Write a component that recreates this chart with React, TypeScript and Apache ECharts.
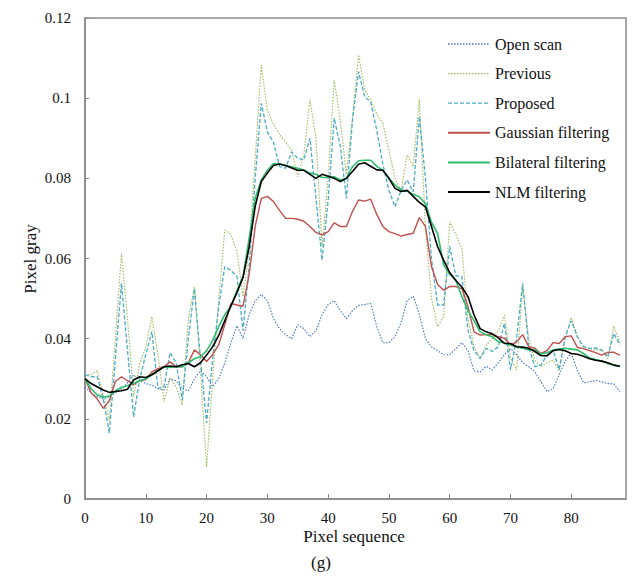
import React, { useEffect, useRef } from "react";
import * as echarts from "echarts";

const seriesNames = ["Open scan", "Previous", "Proposed", "Gaussian filtering", "Bilateral filtering", "NLM filtering"];
const xTicks = [0, 10, 20, 30, 40, 50, 60, 70, 80];

const openScan = [
  0.028, 0.0265, 0.0255, 0.025, 0.0255, 0.0265, 0.0275, 0.029, 0.031, 0.0295,
  0.0288, 0.0284, 0.0275, 0.0272, 0.03, 0.0295, 0.0275, 0.027, 0.03, 0.032,
  0.0305, 0.028, 0.03, 0.034, 0.039, 0.0432, 0.04, 0.046, 0.0495, 0.051,
  0.0495, 0.045, 0.0425, 0.041, 0.04, 0.0435, 0.0425, 0.0405, 0.042, 0.046,
  0.0485, 0.0495, 0.047, 0.045, 0.047, 0.0483, 0.0485, 0.0488, 0.043, 0.039,
  0.039, 0.0405, 0.044, 0.0495, 0.0506, 0.046, 0.04, 0.038, 0.037, 0.036,
  0.036, 0.0375, 0.039, 0.037, 0.032, 0.0317, 0.0331, 0.0322, 0.034, 0.036,
  0.0375, 0.036, 0.034, 0.033, 0.0318, 0.0293, 0.0268, 0.0275, 0.031, 0.0345,
  0.0363, 0.0321, 0.029, 0.0292, 0.0296, 0.0292, 0.0288, 0.0287, 0.0268,
];
const previous = [
  0.031, 0.031, 0.032, 0.026, 0.0197, 0.04, 0.0613, 0.045, 0.0255, 0.0337,
  0.038, 0.0455, 0.036, 0.0243, 0.0301, 0.028, 0.0235, 0.045, 0.053, 0.032,
  0.008, 0.03, 0.05, 0.0671, 0.066, 0.0617, 0.0505, 0.062, 0.085, 0.1083,
  0.097, 0.0935, 0.091, 0.089, 0.087, 0.0804, 0.086, 0.0996, 0.09, 0.063,
  0.08, 0.1045, 0.0945, 0.081, 0.095, 0.1108, 0.1021, 0.0996, 0.096, 0.0937,
  0.087, 0.08, 0.077, 0.0858, 0.0829, 0.0997, 0.068, 0.05, 0.043, 0.0455,
  0.0692, 0.066, 0.0625, 0.045, 0.038, 0.0351, 0.0384, 0.04, 0.042, 0.0459,
  0.035, 0.0322, 0.053, 0.04, 0.0346, 0.033, 0.034, 0.0346, 0.032, 0.04,
  0.0453, 0.0405, 0.038, 0.0372, 0.0372, 0.0372, 0.035, 0.0432, 0.039,
];
const proposed = [
  0.031, 0.0305, 0.0305, 0.025, 0.0165, 0.035, 0.0538, 0.037, 0.0205, 0.03,
  0.036, 0.0418, 0.0276, 0.028, 0.0365, 0.034, 0.0247, 0.04, 0.0525, 0.035,
  0.019, 0.035, 0.048, 0.058, 0.057, 0.0555, 0.042, 0.058, 0.08, 0.0987,
  0.0916, 0.089, 0.083, 0.0825, 0.0866, 0.085, 0.0846, 0.09, 0.075, 0.0596,
  0.0746, 0.095, 0.088, 0.075, 0.0945, 0.1066, 0.1004, 0.099, 0.092, 0.0835,
  0.077, 0.0729, 0.077, 0.0796, 0.0766, 0.0954, 0.08, 0.06, 0.0484, 0.0484,
  0.063, 0.0557, 0.0555, 0.0422, 0.037, 0.0351, 0.0376, 0.0368, 0.038, 0.0438,
  0.0322, 0.04, 0.0538, 0.038, 0.033, 0.0334, 0.0359, 0.0372, 0.0323, 0.0405,
  0.0445, 0.0405, 0.038, 0.0376, 0.0377, 0.0372, 0.0355, 0.0413, 0.0384,
];
const gaussian = [
  0.03, 0.0265, 0.025, 0.0226, 0.0245, 0.0293, 0.0305, 0.0295, 0.0285, 0.0295,
  0.0298, 0.0317, 0.0325, 0.033, 0.0342, 0.033, 0.033, 0.034, 0.0372, 0.036,
  0.0343, 0.036, 0.0385, 0.0435, 0.0488, 0.0484, 0.0481, 0.056, 0.068, 0.075,
  0.0755, 0.0742, 0.072, 0.07, 0.07, 0.0698, 0.0693, 0.068, 0.0665, 0.0659,
  0.0667, 0.0689, 0.068, 0.068, 0.0717, 0.0746, 0.0743, 0.0748, 0.071, 0.068,
  0.0667, 0.0662, 0.0656, 0.066, 0.0663, 0.0702, 0.068, 0.058, 0.0535, 0.0521,
  0.053, 0.053, 0.0525, 0.048, 0.0417, 0.0409, 0.041, 0.041, 0.0405, 0.0401,
  0.0384, 0.0392, 0.041, 0.038, 0.0376, 0.0363, 0.037, 0.039, 0.0388, 0.0405,
  0.0407, 0.0378, 0.0375, 0.037, 0.0365, 0.0359, 0.0366, 0.0366, 0.0359,
];
const bilateral = [
  0.03, 0.0275, 0.026, 0.0254, 0.0257, 0.027, 0.0278, 0.0283, 0.0289, 0.0295,
  0.03, 0.031, 0.032, 0.033, 0.0328, 0.033, 0.033, 0.034, 0.035, 0.0355,
  0.037, 0.0395, 0.043, 0.046, 0.048, 0.052, 0.0555, 0.065, 0.075, 0.0796,
  0.082, 0.0837, 0.0836, 0.0832, 0.0829, 0.0825, 0.0821, 0.0813, 0.081, 0.0802,
  0.0802, 0.0804, 0.0796, 0.08, 0.0829, 0.0844, 0.0845, 0.0845, 0.083, 0.082,
  0.08, 0.0783, 0.0771, 0.0768, 0.076, 0.0754, 0.0737, 0.069, 0.0663, 0.0584,
  0.056, 0.0546, 0.0505, 0.047, 0.0445, 0.0417, 0.041, 0.0405, 0.0392, 0.039,
  0.0384, 0.038, 0.0376, 0.0372, 0.0372, 0.0362, 0.0365, 0.0372, 0.0374, 0.0376,
  0.0374, 0.0372, 0.0363, 0.0352, 0.0348, 0.0344, 0.0338, 0.0334, 0.0331,
];
const nlm = [
  0.03, 0.0288, 0.028, 0.0272, 0.0266, 0.0268, 0.027, 0.0274, 0.0297, 0.0305,
  0.0303, 0.031, 0.032, 0.033, 0.0332, 0.033, 0.0335, 0.0338, 0.033, 0.034,
  0.0359, 0.038, 0.0408, 0.0445, 0.0482, 0.0515, 0.0553, 0.0629, 0.073, 0.0792,
  0.0813, 0.0832, 0.0836, 0.0832, 0.0826, 0.082, 0.082, 0.081, 0.08, 0.081,
  0.0805, 0.08, 0.0792, 0.08, 0.0817, 0.0835, 0.0839, 0.083, 0.0821, 0.082,
  0.08, 0.0775, 0.0767, 0.077, 0.0755, 0.074, 0.0729, 0.068, 0.063, 0.0596,
  0.0565, 0.0545, 0.0529, 0.0505, 0.0459, 0.0425, 0.0417, 0.0412, 0.0402, 0.0388,
  0.0388, 0.038, 0.0379, 0.0376, 0.0368, 0.0358, 0.0357, 0.037, 0.0373, 0.037,
  0.0363, 0.0361, 0.0356, 0.035, 0.0346, 0.0344, 0.034, 0.0334, 0.0331,
];

const seriesData = [openScan, previous, proposed, gaussian, bilateral, nlm];
const colors = ["#4472C4", "#9BBB59", "#4BACC6", "#C0504D", "#2DBE6C", "#000000"];
const lineTypes: any[] = [[1.5, 1.5], [1.5, 1.5], [4, 2], "solid", "solid", "solid"];
const lineWidths = [1.1, 1.1, 1.3, 1.4, 1.6, 1.6];

const FONT = "'Liberation Serif', 'Times New Roman', serif";

export default function App() {
  const ref = useRef<HTMLDivElement>(null);
  useEffect(() => {
    document.body.style.margin = "0";
    if (!ref.current) return;
    const chart = echarts.init(ref.current, undefined, { renderer: "svg" });
    const series = seriesNames.map((name, k) => ({
      name,
      type: "line",
      data: seriesData[k].map((v, i) => [i, v]),
      symbol: "none",
      showSymbol: false,
      color: colors[k],
      lineStyle: { color: colors[k], width: lineWidths[k], type: lineTypes[k] },
      z: 2 + (k >= 3 ? k : 0),
    }));
    const legendGraphics: any[] = [];
    seriesNames.forEach((name, k) => {
      const y = 44 + k * 29.6;
      legendGraphics.push({
        type: "line",
        shape: { x1: 448, y1: y, x2: 490, y2: y },
        style: {
          stroke: colors[k],
          lineWidth: k >= 3 ? 2 : 1.3,
          lineDash: Array.isArray(lineTypes[k]) ? lineTypes[k] : null,
        },
      });
      legendGraphics.push({
        type: "text",
        x: 495,
        y,
        style: { text: name, font: `16px ${FONT}`, fill: "#111", align: "left", verticalAlign: "middle" },
      });
    });
    chart.setOption({
      animation: false,
      backgroundColor: "#ffffff",
      textStyle: { fontFamily: FONT },
      grid: {
        left: 85,
        top: 18,
        right: 7,
        bottom: 77,
        show: true,
        borderColor: "#8a8a8a",
        borderWidth: 1.5,
        backgroundColor: "transparent",
      },
      xAxis: {
        type: "value",
        min: 0,
        max: 89,
        interval: 10,
        axisLine: { show: true, lineStyle: { color: "#8a8a8a", width: 1.5 } },
        axisTick: { show: true, inside: true, length: 5, lineStyle: { color: "#8a8a8a" } },
        axisLabel: {
          showMaxLabel: false,
          margin: 11,
          fontFamily: FONT,
          fontSize: 15,
          color: "#111",
          formatter: (v: number) => (xTicks.includes(v) ? String(v) : ""),
        },
        splitLine: { show: false },
      },
      yAxis: {
        type: "value",
        min: 0,
        max: 0.12,
        interval: 0.02,
        axisLine: { show: true, lineStyle: { color: "#8a8a8a", width: 1.5 } },
        axisTick: { show: true, inside: true, length: 4, lineStyle: { color: "#8a8a8a" } },
        axisLabel: { margin: 14, fontFamily: FONT, fontSize: 15, color: "#111" },
        splitLine: { show: false },
      },
      graphic: [
        ...legendGraphics,
        {
          type: "text",
          x: 354,
          y: 536,
          style: { text: "Pixel sequence", font: `17px ${FONT}`, fill: "#111", align: "center", verticalAlign: "middle" },
        },
        {
          type: "text",
          x: 30,
          y: 259,
          rotation: Math.PI / 2,
          style: { text: "Pixel gray", font: `17px ${FONT}`, fill: "#111", align: "center", verticalAlign: "middle" },
        },
        {
          type: "text",
          x: 321,
          y: 562,
          style: { text: "(g)", font: `17px ${FONT}`, fill: "#111", align: "center", verticalAlign: "middle" },
        },
      ],
      series,
    });
    return () => chart.dispose();
  }, []);
  return <div ref={ref} style={{ width: 633, height: 576 }} />;
}
